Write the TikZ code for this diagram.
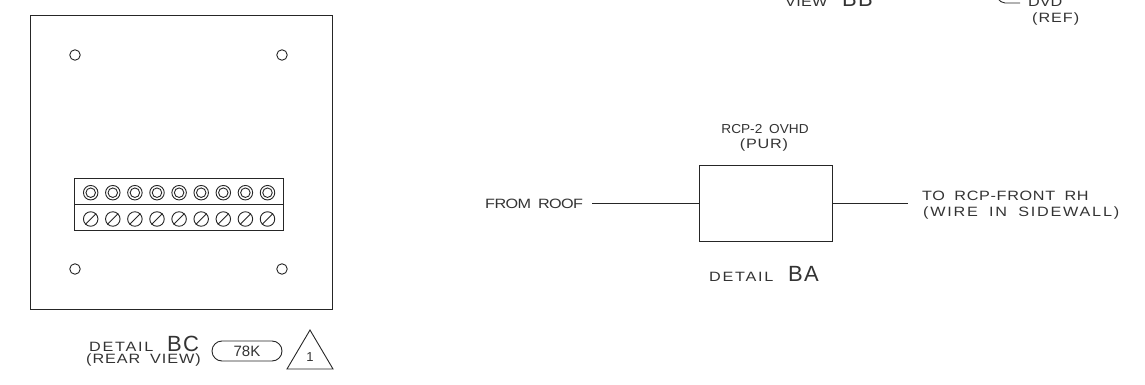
\documentclass[tikz,border=0pt]{standalone}
\usepackage{fontspec}
\setmainfont[WordSpace=1.8]{Liberation Sans}
\tikzset{
  ln/.style={draw=black!85,line width=0.9pt},
  lbl/.style={inner sep=0pt,text=black!80,font=\fontsize{13.5}{14}\selectfont\addfontfeature{FakeStretch=1.2,LetterSpace=#1}},
  big/.style={inner sep=0pt,text=black!80,font=\fontsize{22}{23}\selectfont\addfontfeature{LetterSpace=6}},
  hole/.style={circle,ln,fill=white,minimum size=10.5pt,inner sep=0pt},
  term/.style={circle,ln,fill=white,minimum size=14.5pt,inner sep=0pt},
  termin/.style={circle,ln,fill=none,minimum size=9.5pt,inner sep=0pt},
}
\begin{document}
\begin{tikzpicture}[x=1pt,y=-1pt]
\useasboundingbox (0,0) rectangle (1145,385);
\clip (0,0) rectangle (1145,385);
\node[ln,minimum width=302pt,minimum height=294pt,inner sep=0pt] (panel) at (181,162) {};
\foreach \n/\x/\y in {a/75/55,b/282/55,c/75/269,d/282/269}
  \node[hole] (hole\n) at (\x,\y) {};
\node[ln,minimum width=208.5pt,minimum height=52pt,inner sep=0pt] (block) at (178.75,204) {};
\draw[ln] (block.west) -- (block.east);
\foreach \i in {0,...,8} {
  \pgfmathsetmacro{\cx}{90.7+22.1*\i}
  \node[term] (t\i) at (\cx,192.7) {};
  \node[termin] (u\i) at (\cx,192.7) {};
  \node[term] (s\i) at (\cx,219) {};
  \draw[ln] (s\i.45) -- (s\i.225);
}
\node[lbl=13,anchor=base west] (dbc) at (89,351) {DETAIL};
\node[big,anchor=base west] (bc) at (167,351) {BC};
\node[lbl=7,anchor=base west] (rv) at (86,363) {(REAR VIEW)};
\node[draw=black!85,line width=0.9pt,rounded corners=10pt,minimum width=70pt,minimum height=20pt,inner sep=0pt,
  text=black!80,font=\fontsize{15}{16}\selectfont] (tag) at (247,351) {78K};
\coordinate (tapex) at (310,330);
\coordinate (tleft) at (287,369);
\coordinate (tright) at (333,369);
\draw[ln,line join=miter] (tapex) -- (tleft) -- (tright) -- cycle;
\node[inner sep=0pt,text=black!80,font=\fontsize{13}{14}\selectfont] (rev) at (310,357) {1};
% right-hand detail
\node[ln,minimum width=133pt,minimum height=76pt,inner sep=0pt] (box) at (765.5,203) {};
\node[inner sep=0pt,text=black!80,font=\fontsize{13}{14}\selectfont\addfontfeature{FakeStretch=1.05,LetterSpace=0},anchor=base] (rcp) at (765,134) {RCP-2 OVHD};
\node[lbl=6,anchor=base] (pur) at (764,149) {(PUR)};
\node[lbl=-4.5,anchor=base west] (from) at (485,208) {FROM ROOF};
\coordinate (fromend) at (592,203);
\draw[ln] (fromend) -- (box.west);
\coordinate (toend) at (908,203);
\draw[ln] (box.east) -- (toend);
\node[lbl=5,anchor=base west] (to) at (922,200) {TO RCP-FRONT RH};
\node[lbl=13,anchor=base west] (wire) at (923,216) {(WIRE IN SIDEWALL)};
\node[lbl=13,anchor=base west] (dba) at (709,281) {DETAIL};
\node[big,anchor=base west] (ba) at (788,281) {BA};
% top crop
\node[lbl=2,anchor=base west] (view) at (785,7) {VIEW};
\node[big,anchor=base west] (bb) at (842,7) {BB};
\node[lbl=0,anchor=base west] (dvd) at (1028,7) {DVD};
\node[lbl=7,anchor=base west] (ref) at (1032,23) {(REF)};
\coordinate (lead) at (1020,3);
\coordinate (leadtop) at (998,-1);
\draw[ln] (lead) -- (1005,3) .. controls (1002,3) and (1000,1) .. (leadtop);
\end{tikzpicture}
\end{document}
